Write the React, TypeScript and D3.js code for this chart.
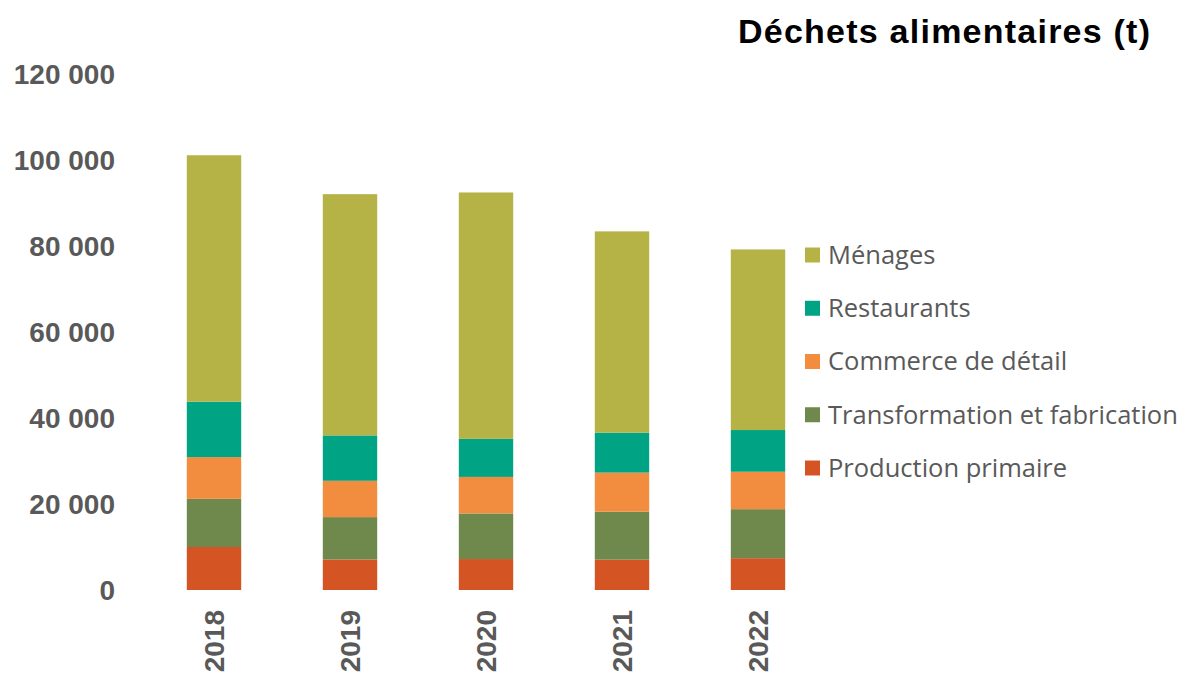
import React from "react";
import * as d3 from "d3";

// values in tonnes
const years = ["2018", "2019", "2020", "2021", "2022"];
const seriesNames = [
  "Production primaire",
  "Transformation et fabrication",
  "Commerce de détail",
  "Restaurants",
  "Ménages",
];
const productionPrimaire = [10000, 7100, 7200, 7050, 7400];
const transformation = [11200, 9850, 10600, 11150, 11400];
const commerce = [9700, 8450, 8500, 9100, 8700];
const restaurants = [12900, 10550, 8850, 9300, 9700];
const menages = [57300, 56100, 57300, 46800, 42000];
const colors = ["#D55424", "#6F894C", "#F28D40", "#00A383", "#B5B345"];
const yTicks = [0, 20000, 40000, 60000, 80000, 100000, 120000];
const title = "Déchets alimentaires (t)";

const seriesValues = [productionPrimaire, transformation, commerce, restaurants, menages];

interface Row {
  year: string;
  [key: string]: number | string;
}

const rows: Row[] = years.map((year, i) => {
  const r: Row = { year };
  seriesNames.forEach((name, s) => {
    r[name] = seriesValues[s][i];
  });
  return r;
});

const W = 1192;
const H = 677;

const App: React.FC = () => {
  const xScale = d3
    .scaleBand()
    .domain(years)
    .range([146, 826])
    .paddingInner(0.6)
    .paddingOuter(0.3);

  const yScale = d3.scaleLinear().domain([0, 120000]).range([590, 74]);

  const stack = d3.stack<Row>().keys(seriesNames);
  const stacked = stack(rows);

  const color = d3.scaleOrdinal<string, string>().domain(seriesNames).range(colors);

  // legend shows top series first
  const legendOrder = [...seriesNames].reverse();
  const legendY = d3
    .scalePoint()
    .domain(legendOrder)
    .range([255, 468]);

  const fmt = (v: number) => d3.format(",")(v).replace(/,/g, " ");

  return (
    <>
      <style>{`body{margin:0}`}</style>
      <svg width={W} height={H} style={{ display: "block", background: "#fff" }}>
        <text
          x={1150}
          y={43}
          textAnchor="end"
          fontFamily="Liberation Sans, Arial, sans-serif"
          fontWeight="bold"
          fontSize={34}
          fill="#000"
          textLength={412}
          lengthAdjust="spacing"
        >
          {title}
        </text>

        {/* y axis labels */}
        <g fontFamily="Liberation Sans, Arial, sans-serif" fontWeight="bold" fontSize={28} fill="#595959">
          {yTicks.map((t) => (
            <text key={t} x={115} y={yScale(t)} dy="0.35em" textAnchor="end">
              {fmt(t)}
            </text>
          ))}
        </g>

        {/* stacked bars */}
        {stacked.map((layer) => (
          <g key={layer.key} fill={color(layer.key)}>
            {layer.map((d) => (
              <rect
                key={d.data.year}
                x={xScale(d.data.year)!}
                y={yScale(d[1])}
                width={xScale.bandwidth()}
                height={yScale(d[0]) - yScale(d[1])}
              />
            ))}
          </g>
        ))}

        {/* x axis labels */}
        <g fontFamily="Liberation Sans, Arial, sans-serif" fontWeight="bold" fontSize={28} fill="#595959">
          {years.map((y) => {
            const cx = xScale(y)! + xScale.bandwidth() / 2;
            return (
              <text
                key={y}
                transform={`translate(${cx + 10},610) rotate(-90)`}
                textAnchor="end"
              >
                {y}
              </text>
            );
          })}
        </g>

        {/* legend */}
        <g fontFamily="Open Sans, sans-serif" fontSize={25.5} fill="#595959">
          {legendOrder.map((name) => {
            const ly = legendY(name)!;
            return (
              <g key={name}>
                <rect x={805} y={ly - 7.5} width={15} height={15} fill={color(name)} />
                <text x={828} y={ly} dy="0.35em">
                  {name}
                </text>
              </g>
            );
          })}
        </g>
      </svg>
    </>
  );
};

export default App;
